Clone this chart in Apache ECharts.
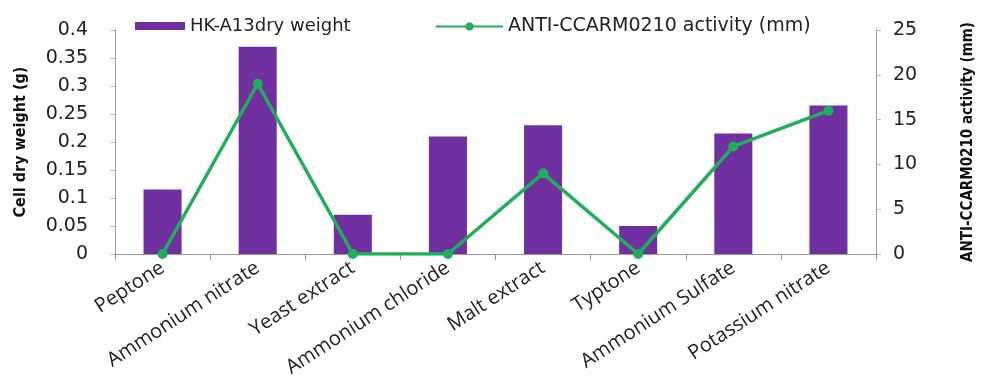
<!DOCTYPE html>
<html><head><meta charset="utf-8">
<script src="https://cdn.jsdelivr.net/npm/echarts@6/dist/echarts.min.js"></script>
<style>html,body{margin:0;padding:0;background:#fff}#c{width:984px;height:391px}</style>
</head><body><div id="c"></div>
<script>
const categories = ["Peptone","Ammonium nitrate","Yeast extract","Ammonium chloride","Malt extract","Typtone","Ammonium Sulfate","Potassium nitrate"];
const dryWeight = [0.115,0.37,0.07,0.21,0.23,0.05,0.215,0.265];
const activity = [0,19,0,0,9,0,12,16];
const leftTicks = {min:0,max:0.4,interval:0.05};
const rightTicks = {min:0,max:25,interval:5};
const barName = "HK-A13dry weight";
const lineName = "ANTI-CCARM0210 activity (mm)";

const chart = echarts.init(document.getElementById('c'));
const tickFont = {fontFamily:'DejaVu Sans',fontSize:19,color:'#222'};
const nameFont = {fontFamily:'DejaVu Sans Condensed',fontWeight:'bold',fontSize:16,color:'#111'};
const legendText = {fontFamily:'DejaVu Sans',fontSize:18,color:'#222'};
chart.setOption({
  animation:false,
  grid:{left:115,right:108,top:30,bottom:137},
  legend:[{
    left:130, top:12, itemWidth:50, itemHeight:8, itemGap:0,
    textStyle:legendText, data:[{name:barName,icon:'rect'}]
  },{
    left:430, top:12, itemWidth:67, itemHeight:10,
    textStyle:Object.assign({},legendText,{fontSize:19}), data:[{name:lineName}]
  }],
  xAxis:{
    type:'category', data:categories, boundaryGap:true,
    axisLine:{lineStyle:{color:'#999',width:1}},
    axisTick:{show:true,length:6,lineStyle:{color:'#999'}},
    axisLabel:{rotate:33,fontFamily:'Open Sans',fontSize:20,color:'#222',margin:12,interval:0}
  },
  yAxis:[{
    type:'value', min:leftTicks.min, max:leftTicks.max, interval:leftTicks.interval,
    name:'Cell dry weight (g)', nameLocation:'middle', nameGap:86, nameRotate:90,
    nameTextStyle:nameFont,
    axisLine:{show:true,lineStyle:{color:'#999'}},
    axisTick:{show:true,length:5,lineStyle:{color:'#bbb'}},
    splitLine:{show:false},
    axisLabel:Object.assign({margin:27},tickFont)
  },{
    type:'value', min:rightTicks.min, max:rightTicks.max, interval:rightTicks.interval,
    name:'ANTI-CCARM0210 activity (mm)', nameLocation:'middle', nameGap:100, nameRotate:90,
    nameTextStyle:Object.assign({verticalAlign:'bottom'},nameFont,{fontSize:15}),
    axisLine:{show:true,lineStyle:{color:'#999'}},
    axisTick:{show:true,length:5,lineStyle:{color:'#bbb'}},
    splitLine:{show:false},
    axisLabel:Object.assign({margin:17},tickFont)
  }],
  series:[{
    name:barName, type:'bar', data:dryWeight, yAxisIndex:0, barWidth:'40%',
    itemStyle:{color:'#7030a0'}
  },{
    name:lineName, type:'line', data:activity, yAxisIndex:1,
    symbol:'circle', symbolSize:10,
    lineStyle:{color:'#1fae5a',width:3.5}, itemStyle:{color:'#1fae5a'}
  }]
});
</script></body></html>
